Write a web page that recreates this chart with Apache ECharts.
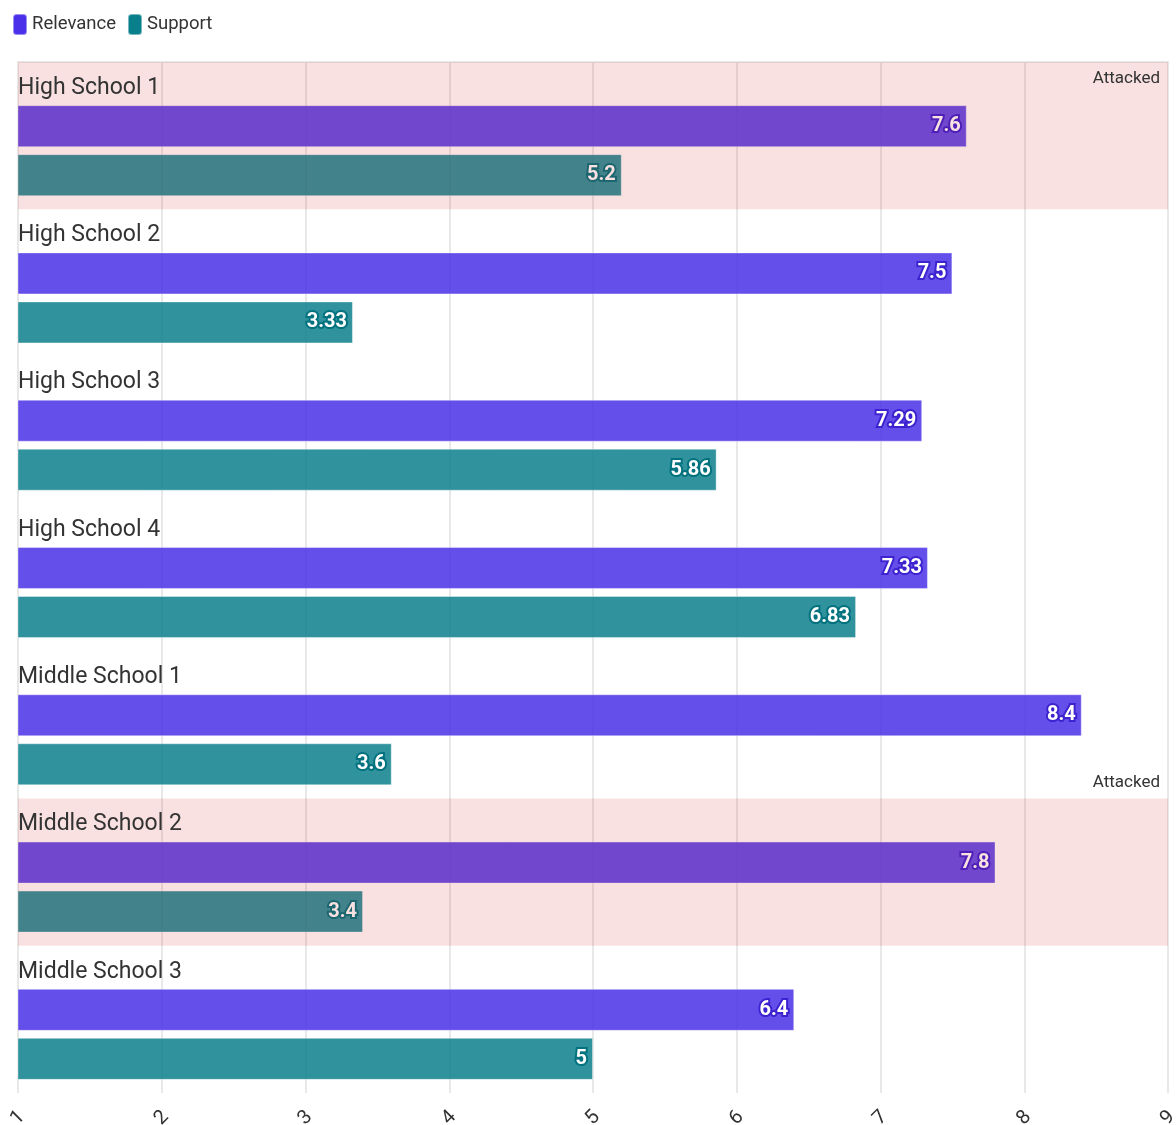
<!DOCTYPE html>
<html>
<head>
<meta charset="utf-8">
<script src="https://cdn.jsdelivr.net/npm/echarts@6/dist/echarts.min.js"></script>
<style>
html,body{margin:0;padding:0;background:#fff;}
#chart{width:1176px;height:1125px;}
</style>
</head>
<body>
<div id="chart"></div>
<script>
const categories = ['High School 1', 'High School 2', 'High School 3', 'High School 4', 'Middle School 1', 'Middle School 2', 'Middle School 3'];
const relevance = [7.6, 7.5, 7.29, 7.33, 8.4, 7.8, 6.4];
const support = [5.2, 3.33, 5.86, 6.83, 3.6, 3.4, 5];
const attacked = ['High School 1', 'Middle School 2'];
const xTicks = { min: 1, max: 9, interval: 1 };

const FONT = 'Roboto';
const C_REL = '#4a30e8';
const C_SUP = '#0a7f8c';

const chart = echarts.init(document.getElementById('chart'));

const attackedAreas = attacked.map(function (name, i) {
  const idx = categories.indexOf(name);
  return [
    {
      yAxis: idx,
      xAxis: xTicks.min,
      name: 'Attacked',
      label: i === 0 ? { position: 'insideTopRight', distance: 8 } : { position: 'insideTopRight', distance: 8, offset: [0, -32] }
    },
    { yAxis: idx + 1, xAxis: xTicks.max }
  ];
});

function valueLabel(border) {
  return {
    show: true,
    position: 'insideRight',
    distance: 6,
    color: '#fff',
    fontFamily: FONT,
    fontWeight: 'bold',
    fontSize: 20,
    textBorderColor: border,
    textBorderWidth: 4,
    opacity: 1
  };
}

const option = {
  animation: false,
  textStyle: { fontFamily: FONT },
  legend: {
    data: ['Relevance', 'Support'],
    left: 7,
    top: 8,
    icon: 'roundRect',
    itemWidth: 14,
    itemHeight: 21,
    itemGap: 11,
    itemStyle: { opacity: 1 },
    textStyle: { fontFamily: FONT, fontSize: 18.5, color: '#333', padding: [0, 0, 0, 0] }
  },
  grid: { left: 18, right: 8, top: 62, bottom: 32, containLabel: false, outerBoundsMode: 'none' },
  xAxis: {
    type: 'value',
    min: xTicks.min,
    max: xTicks.max,
    interval: xTicks.interval,
    axisLine: { show: true, lineStyle: { color: '#e8e8e8', width: 2 } },
    axisTick: { show: true, length: 10, lineStyle: { color: '#e8e8e8', width: 2 } },
    splitLine: { show: true, lineStyle: { color: '#e8e8e8', width: 2 } },
    axisLabel: { rotate: 45, fontSize: 20, color: '#333', fontFamily: FONT, margin: 25, align: 'center', verticalAlign: 'middle' }
  },
  yAxis: [
    {
      type: 'category',
      data: categories,
      inverse: true,
      axisLine: { show: false },
      axisTick: { show: false },
      splitLine: { show: false },
      axisLabel: {
        inside: true,
        margin: 0,
        formatter: function (v) { return '{a|' + v + '}\n{b|}'; },
        rich: {
          a: { fontSize: 23, lineHeight: 30, color: '#333', fontFamily: FONT },
          b: { lineHeight: 95, fontSize: 1 }
        }
      },
      z: 10
    },
    {
      type: 'value',
      show: false,
      min: 0,
      max: categories.length,
      inverse: true,
      splitLine: { show: false },
      axisLine: { show: false }
    }
  ],
  series: [
    {
      name: '_spacer',
      type: 'bar',
      yAxisIndex: 0,
      barWidth: 25.7,
      barGap: '16.667%',
      silent: true,
      itemStyle: { color: 'rgba(0,0,0,0)' },
      data: categories.map(function () { return 0; })
    },
    {
      name: 'Relevance',
      type: 'bar',
      yAxisIndex: 0,
      barWidth: 42,
      barGap: '16.667%',
      itemStyle: { color: C_REL, opacity: 0.85, borderColor: 'rgba(255,255,255,0.45)', borderWidth: 1 },
      label: valueLabel('#3d22d0'),
      data: relevance
    },
    {
      name: 'Support',
      type: 'bar',
      yAxisIndex: 0,
      barWidth: 42,
      barGap: '16.667%',
      itemStyle: { color: C_SUP, opacity: 0.85, borderColor: 'rgba(255,255,255,0.45)', borderWidth: 1 },
      label: valueLabel('#03727f'),
      data: support
    },
    {
      name: '_areas',
      type: 'line',
      yAxisIndex: 1,
      data: [],
      markArea: {
        silent: true,
        z: 5,
        itemStyle: { color: 'rgba(200,25,15,0.13)', borderWidth: 0 },
        label: { show: true, color: '#333', fontSize: 17, fontFamily: FONT, formatter: 'Attacked' },
        data: attackedAreas
      }
    }
  ]
};

chart.setOption(option);
</script>
</body>
</html>
